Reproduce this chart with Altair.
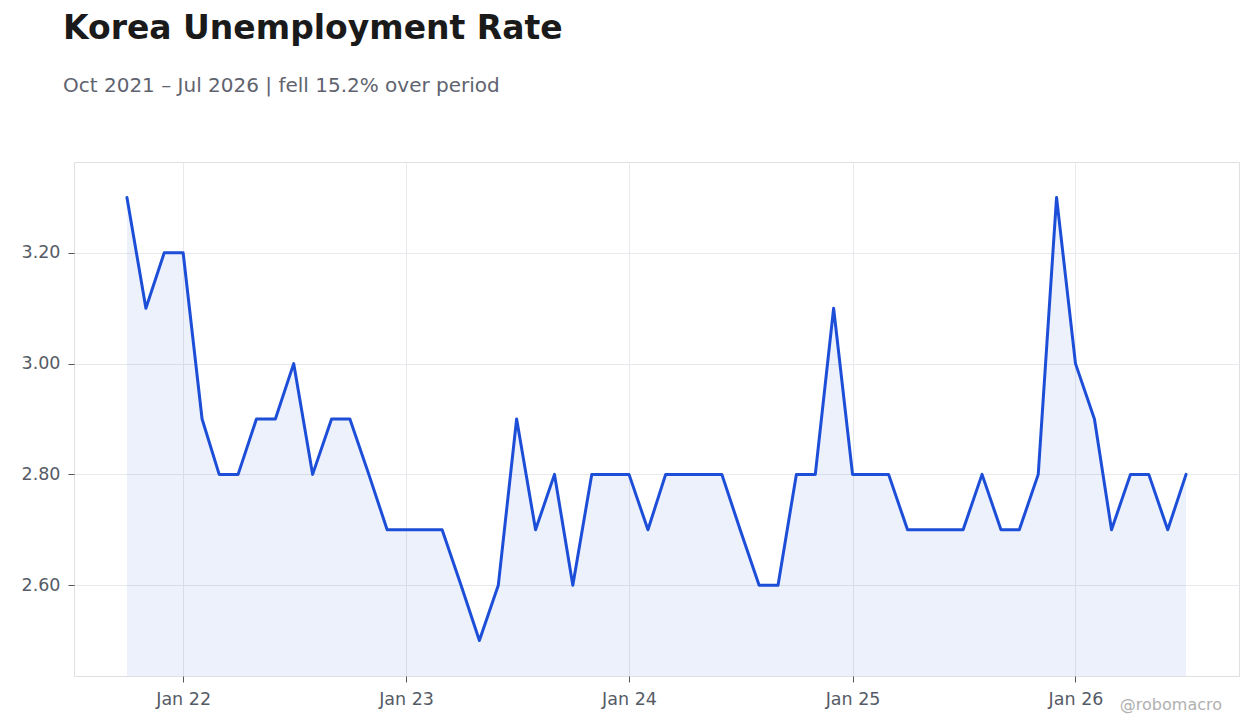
import altair as alt
import pandas as pd

BLUE = "#1d4ed8"
FONT = "DejaVu Sans"

# monthly unemployment rate, Oct 2021 .. Jul 2026
months = pd.date_range("2021-10-01", "2026-07-01", freq="MS").strftime("%Y-%m-%d").tolist()
rates = [
    3.3, 3.1, 3.2, 3.2, 2.9, 2.8, 2.8, 2.9, 2.9, 3.0,
    2.8, 2.9, 2.9, 2.8, 2.7, 2.7, 2.7, 2.7, 2.6, 2.5,
    2.6, 2.9, 2.7, 2.8, 2.6, 2.8, 2.8, 2.8, 2.7, 2.8,
    2.8, 2.8, 2.8, 2.7, 2.6, 2.6, 2.8, 2.8, 3.1, 2.8,
    2.8, 2.8, 2.7, 2.7, 2.7, 2.7, 2.8, 2.7, 2.7, 2.8,
    3.3, 3.0, 2.9, 2.7, 2.8, 2.8, 2.7, 2.8,
]
y_ticks = [2.6, 2.8, 3.0, 3.2]
x_ticks = ["2022-01-01", "2023-01-01", "2024-01-01", "2025-01-01", "2026-01-01"]

df = pd.DataFrame({"date": months, "rate": rates})

# pad the domains a little like the original
t0 = pd.Timestamp(months[0])
t1 = pd.Timestamp(months[-1])
pad_t = (t1 - t0) * 0.05
x_domain = [
    int((t0 - pad_t).timestamp() * 1000),
    int((t1 + pad_t).timestamp() * 1000),
]
lo, hi = min(rates), max(rates)
pad_y = (hi - lo) * 0.08
y_domain = [lo - pad_y, hi + pad_y]

x_tick_ms = [int(pd.Timestamp(d).timestamp() * 1000) for d in x_ticks]

x_enc = alt.X(
    "date:T",
    title=None,
    scale=alt.Scale(type="utc", domain=x_domain),
    axis=alt.Axis(values=x_tick_ms, labelExpr="utcFormat(datum.value, '%b %y')"),
)
y_scale = alt.Scale(domain=y_domain, zero=False, nice=False)

base = alt.Chart(df).encode(x=x_enc)

area = base.mark_area(color=BLUE, opacity=0.08, clip=True).encode(
    y=alt.Y("rate:Q", title=None, scale=y_scale,
            axis=alt.Axis(values=y_ticks, format=".2f"))
)
line = base.mark_line(color=BLUE, strokeWidth=3, strokeJoin="round", strokeCap="round").encode(
    y=alt.Y("rate:Q", scale=y_scale)
)

credit = alt.Chart(pd.DataFrame({"t": ["@robomacro"]})).mark_text(
    align="right", baseline="middle", font=FONT, fontSize=16, color="#b0b0b0"
).encode(x=alt.value(1148), y=alt.value(543), text="t:N")

chart = (
    alt.layer(area, line, credit)
    .properties(
        width=1165,
        height=514,
        autosize=alt.AutoSizeParams(type="none"),
        padding={"left": 66, "top": 154, "right": 5, "bottom": 40},
        title=alt.Title(
            "Korea Unemployment Rate",
            subtitle="Oct 2021 – Jul 2026 | fell 15.2% over period",
            anchor="start",
            frame="group",
            dx=-11,
            offset=66,
            font=FONT,
            fontSize=33,
            fontWeight="bold",
            color="#1a1a1a",
            subtitleFont=FONT,
            subtitleFontSize=20,
            subtitleColor="#5f6370",
            subtitlePadding=30,
        ),
    )
    .configure_view(stroke="#dddfe3")
    .configure_axis(
        labelFont=FONT,
        labelFontSize=17.5,
        labelColor="#555b66",
        domain=False,
        grid=True,
        gridColor="#e8e9ed",
        ticks=True,
        tickColor="#555555",
        tickSize=6,
        labelPadding=8,
    )
)

chart.save("out.html", embed_options={"renderer": "svg", "actions": False})
